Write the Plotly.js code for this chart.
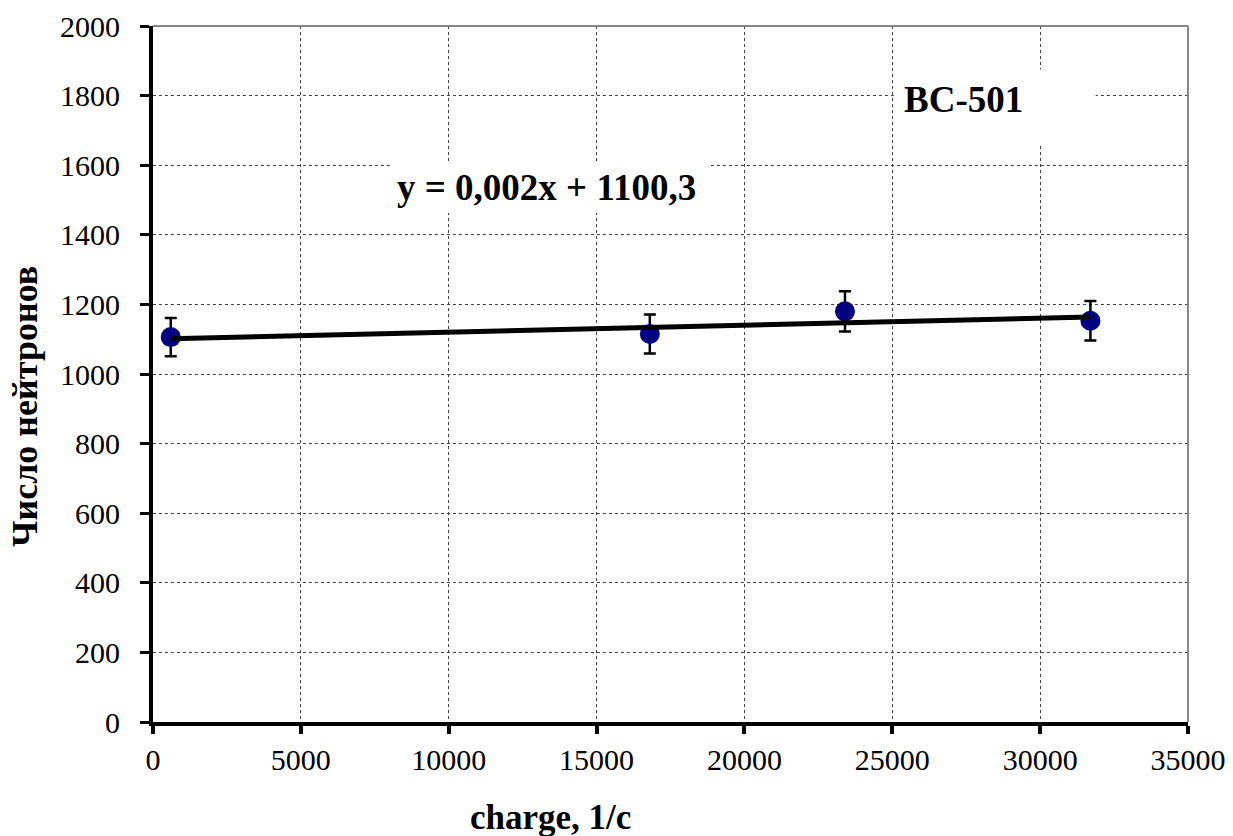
<!DOCTYPE html>
<html>
<head>
<meta charset="utf-8">
<script src="https://cdn.plot.ly/plotly-3.0.1.min.js"></script>
<style>
  html, body { margin: 0; padding: 0; background: #fff; }
  #chart { width: 1233px; height: 836px; }
</style>
</head>
<body>
<div id="chart"></div>
<script>
// Measured points: charge vs. neutron count, with absolute errors
const charge = [600, 16800, 23400, 31700];
const neutrons = [1106, 1115, 1180, 1153];
const neutronErr = [55, 56, 58, 57];

// Linear fit as stated in the equation label
const fitSlope = 0.002;
const fitIntercept = 1100.3;
const fitX = [charge[0], charge[charge.length - 1]];
const fitY = fitX.map(x => fitSlope * x + fitIntercept);

const xTicks = [0, 5000, 10000, 15000, 20000, 25000, 30000, 35000];
const yTicks = [0, 200, 400, 600, 800, 1000, 1200, 1400, 1600, 1800, 2000];

const serif = 'Times New Roman, Liberation Serif, serif';

const traces = [
  {
    x: charge,
    y: neutrons,
    type: 'scatter',
    mode: 'markers',
    marker: { color: '#000080', size: 20 },
    error_y: { type: 'data', array: neutronErr, visible: true, color: '#000', thickness: 2.5, width: 6 },
    showlegend: false,
    hoverinfo: 'x+y'
  },
  {
    x: fitX,
    y: fitY,
    type: 'scatter',
    mode: 'lines',
    line: { color: '#000', width: 5 },
    showlegend: false
  }
];

const layout = {
  width: 1233,
  height: 836,
  margin: { l: 153, r: 45, t: 26, b: 114 },
  paper_bgcolor: '#fff',
  plot_bgcolor: '#fff',
  font: { family: serif, size: 30, color: '#000' },
  xaxis: {
    range: [0, 35000],
    tickvals: xTicks,
    ticktext: xTicks.map(String),
    showgrid: true,
    gridcolor: '#444',
    griddash: 'dot',
    gridwidth: 1,
    zeroline: false,
    showline: true,
    linecolor: '#000',
    linewidth: 4,
    ticks: 'outside',
    ticklen: 8,
    tickwidth: 4,
    tickcolor: '#000',
    tickfont: { family: serif, size: 30, color: '#000', weight: 'normal' }
  },
  yaxis: {
    range: [0, 2000],
    tickvals: yTicks,
    ticktext: yTicks.map(String),
    showgrid: true,
    gridcolor: '#444',
    griddash: 'dot',
    gridwidth: 1,
    zeroline: false,
    showline: true,
    linecolor: '#000',
    linewidth: 4,
    ticks: 'outside',
    ticklen: 9,
    tickwidth: 3,
    tickcolor: '#000',
    ticklabelstandoff: 14,
    tickfont: { family: serif, size: 30, color: '#000', weight: 'normal' }
  },
  shapes: [
    // top and right frame of the plot area
    { type: 'line', xref: 'paper', yref: 'paper', x0: 0, x1: 1, y0: 1, y1: 1, line: { color: '#888', width: 2 } },
    { type: 'line', xref: 'paper', yref: 'paper', x0: 1, x1: 1, y0: 0, y1: 1, line: { color: '#888', width: 2 } },
    // white boxes behind the text labels
    { type: 'rect', xref: 'x', yref: 'y', x0: 8050, x1: 18800, y0: 1463, y1: 1610, fillcolor: '#fff', line: { width: 0 }, layer: 'above' },
    { type: 'rect', xref: 'x', yref: 'y', x0: 25050, x1: 31880, y0: 1655, y1: 1875, fillcolor: '#fff', line: { width: 0 }, layer: 'above' }
  ],
  annotations: [
    { x: 13300, y: 1535, xref: 'x', yref: 'y', text: '<b>y = 0,002x + 1100,3</b>', showarrow: false, font: { family: serif, size: 37, color: '#000' } },
    { x: 27400, y: 1790, xref: 'x', yref: 'y', text: '<b>BC-501</b>', showarrow: false, font: { family: serif, size: 37, color: '#000' } },
    // axis titles
    { x: 0.3845, y: -0.1365, xref: 'paper', yref: 'paper', xanchor: 'center', yanchor: 'middle', text: '<b>charge, 1/c</b>', showarrow: false, font: { family: serif, size: 35, color: '#000' } },
    { x: -0.1237, y: 0.454, xref: 'paper', yref: 'paper', xanchor: 'center', yanchor: 'middle', text: '<b>Число нейтронов</b>', textangle: -90, showarrow: false, font: { family: serif, size: 36, color: '#000' } }
  ]
};

Plotly.newPlot('chart', traces, layout, { displayModeBar: false, staticPlot: true });
</script>
</body>
</html>
